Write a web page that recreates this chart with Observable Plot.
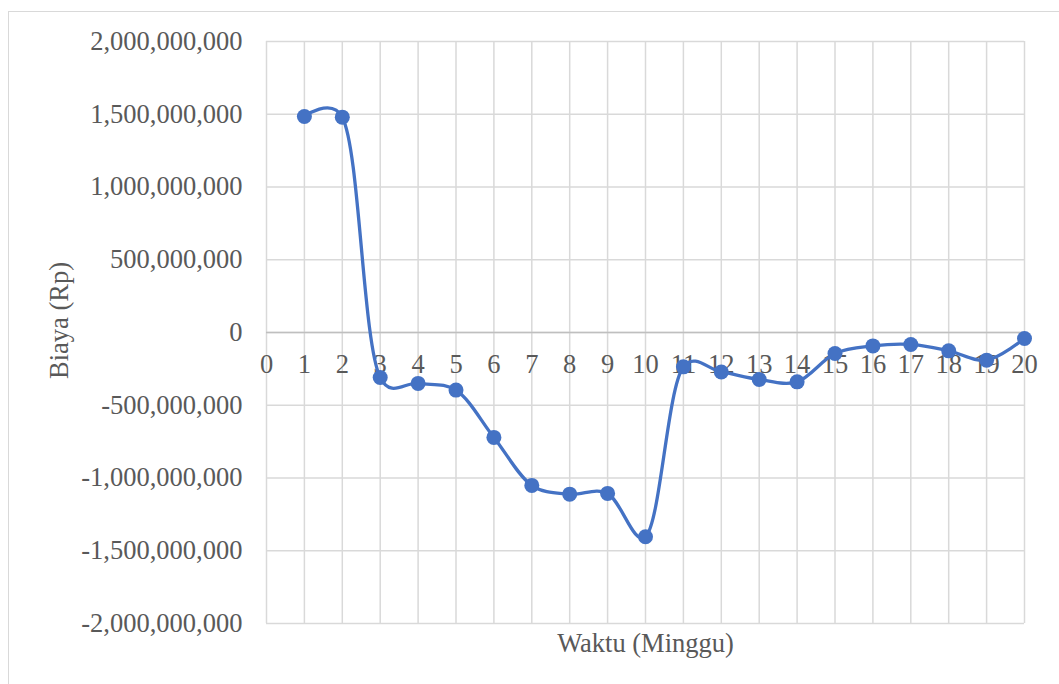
<!DOCTYPE html>
<html>
<head>
<meta charset="utf-8">
<script src="https://cdn.jsdelivr.net/npm/d3@7"></script>
<script src="https://cdn.jsdelivr.net/npm/@observablehq/plot@0.6"></script>
<style>
  html, body { margin: 0; padding: 0; background: #fff; }
  #chart { position: relative; width: 1059px; height: 684px; overflow: hidden; }
  #chart svg { position: absolute; left: 0; top: 0; }
  #frame {
    position: absolute; left: 8px; top: 11px; width: 1100px; height: 800px;
    border-top: 1.5px solid #d9d9d9; border-left: 1.5px solid #d9d9d9;
    pointer-events: none;
  }
</style>
</head>
<body>
<div id="chart"><div id="frame"></div></div>
<script>
// Weekly cash position (Rp)
const weeks = [1, 2, 3, 4, 5, 6, 7, 8, 9, 10, 11, 12, 13, 14, 15, 16, 17, 18, 19, 20];
const costs = [
  1485000000, 1480000000, -309000000, -350000000, -396000000,
  -721000000, -1051000000, -1111000000, -1106000000, -1404000000,
  -236000000, -271000000, -323000000, -339000000, -144000000,
  -92000000, -82000000, -126000000, -190000000, -41000000
];
const xTicks = [0, 1, 2, 3, 4, 5, 6, 7, 8, 9, 10, 11, 12, 13, 14, 15, 16, 17, 18, 19, 20];
const yTicks = [-2000000000, -1500000000, -1000000000, -500000000, 0, 500000000, 1000000000, 1500000000, 2000000000];

const data = weeks.map((w, i) => ({week: w, cost: costs[i]}));
const fmt = d => (d < 0 ? "-" : "") + d3.format(",")(Math.abs(d));
const textColor = "#595959";
const grid = {stroke: "#d9d9d9", strokeOpacity: 1, strokeWidth: 1.5};

const chart = Plot.plot({
  width: 1059,
  height: 684,
  marginLeft: 266,
  marginRight: 35,
  marginTop: 41,
  marginBottom: 61,
  style: {fontFamily: "'Liberation Serif', 'Times New Roman', serif", fontSize: "26px", color: textColor, background: "transparent"},
  x: {domain: [0, 20], axis: null},
  y: {domain: [-2000000000, 2000000000]},
  marks: [
    Plot.gridX(xTicks, grid),
    Plot.gridY(yTicks, grid),
    Plot.ruleY([0], {stroke: "#bfbfbf", strokeWidth: 1.5}),
    Plot.axisY(yTicks, {tickSize: 0, tickPadding: 24, tickFormat: fmt, fontSize: 26.5, fill: textColor, label: null}),
    // week labels sit along the zero line
    Plot.text(xTicks, {x: d => d, y: () => 0, text: d => String(d), dy: 32, lineAnchor: "middle", fontSize: 26.5, fill: textColor}),
    Plot.line(data, {x: "week", y: "cost", curve: "catmull-rom", tension: 0.25, stroke: "#4472c4", strokeWidth: 3.3}),
    Plot.dot(data, {x: "week", y: "cost", r: 7.5, fill: "#4472c4"}),
    Plot.text(["Waktu (Minggu)"], {frameAnchor: "bottom", lineAnchor: "top", dy: 10, fontSize: 26.5, fill: textColor}),
    Plot.text(["Biaya (Rp)"], {frameAnchor: "left", textAnchor: "middle", rotate: -90, dx: -207, dy: -12, fontSize: 26.5, fill: textColor})
  ]
});

document.getElementById("chart").prepend(chart);
</script>
</body>
</html>
